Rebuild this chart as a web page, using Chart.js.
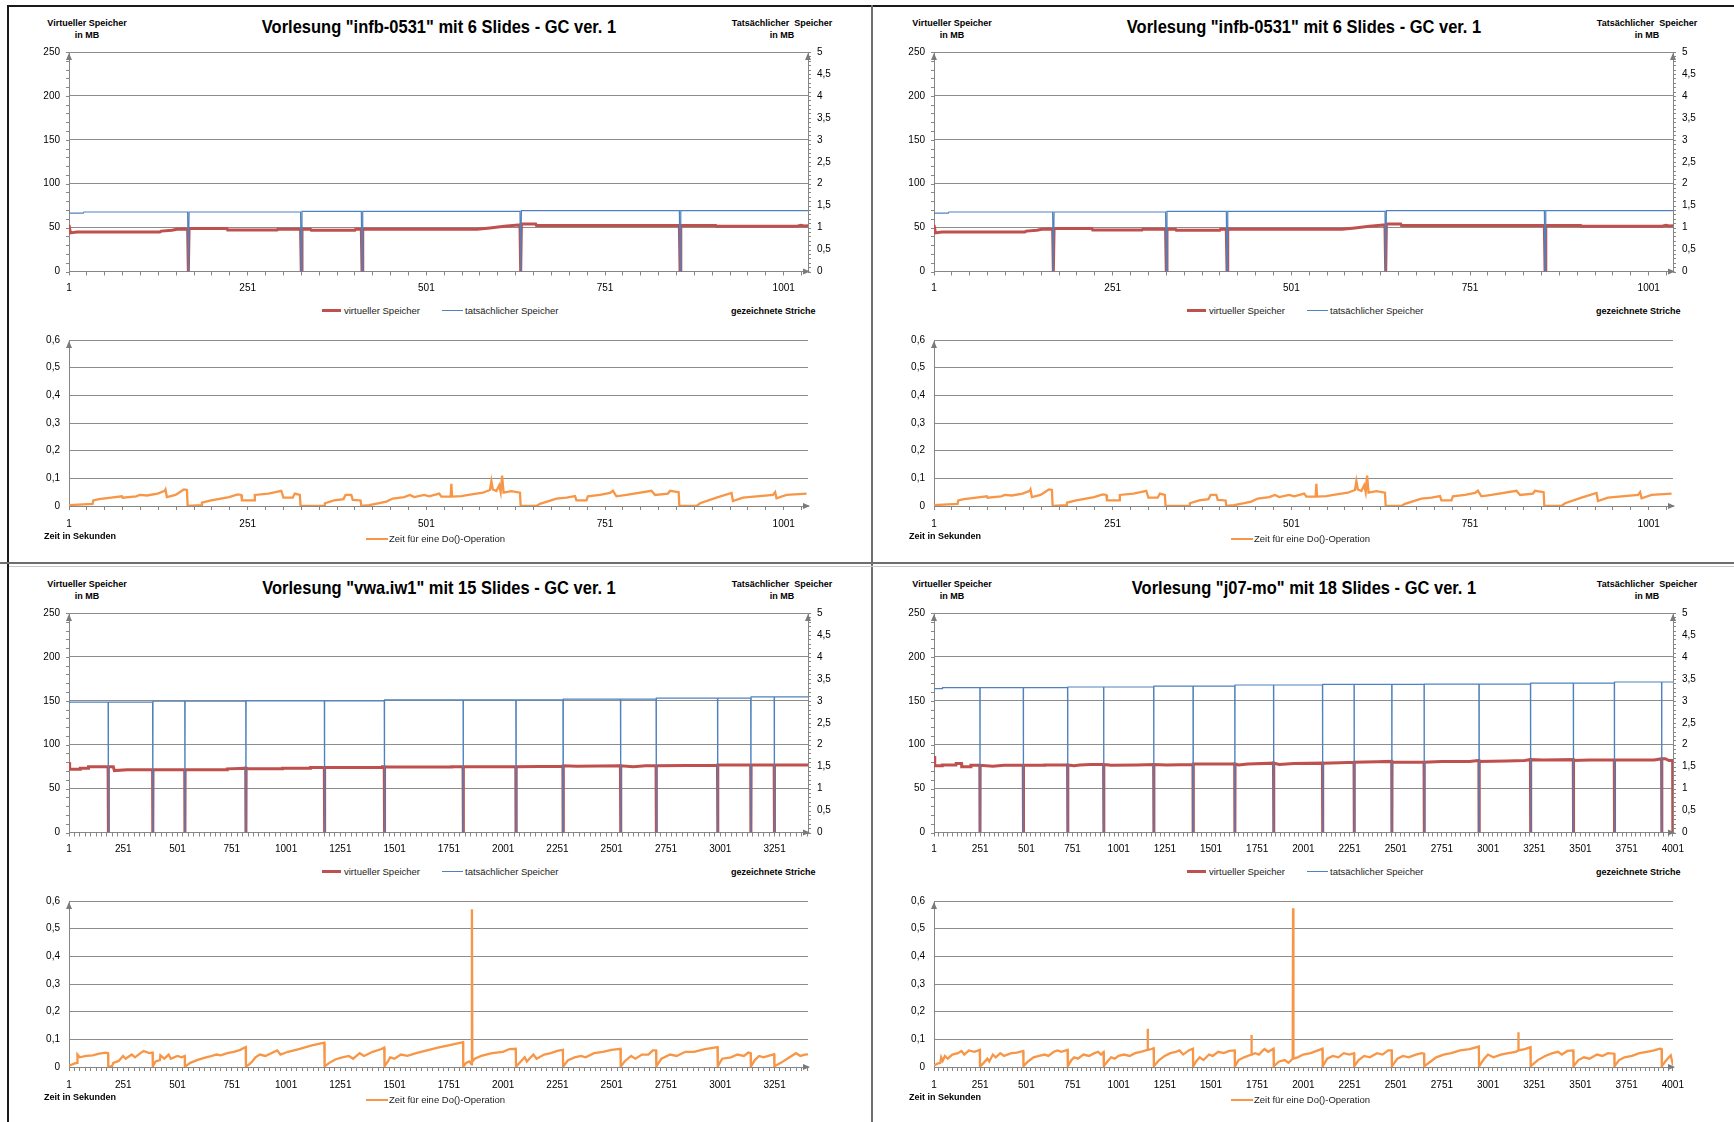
<!DOCTYPE html>
<html lang="de">
<head>
<meta charset="utf-8">
<title>GC Speicherverbrauch</title>
<script src="https://cdn.jsdelivr.net/npm/chart.js@4.4.0/dist/chart.umd.min.js"></script>
<style>
  html, body { margin: 0; padding: 0; background: #fff; }
  #page { position: relative; width: 1734px; height: 1122px; overflow: hidden;
          font-family: 'Liberation Sans', Arial, sans-serif; color: #000; }
  .panel { position: absolute; width: 865px; height: 561px; }
  .panel canvas { position: absolute; left: 0; }
  .txt { position: absolute; white-space: nowrap; line-height: 1; }
  .title { font-size: 17px; font-weight: bold; transform: translate(-50%, -50%) scale(0.97, 1.12); }
  .axtitle { font-size: 9px; font-weight: bold; text-align: center; line-height: 12px; transform: translateX(-50%); }
  .leg { font-size: 9.5px; color: #222; transform: translateY(-50%); }
  .bold { font-weight: bold; color: #000; font-size: 9px; }
  .swatch { position: absolute; }
  .rule { position: absolute; }
</style>
</head>
<body>
<div id="page"></div>
<script>
// colours like Excel 2007
const RED = '#C0504D', BLUE = '#4F81BD', ORANGE = '#F79646';
const AXIS = '#868686', GRID = '#8c8c8c';
const FONT = "'Liberation Sans', Arial, sans-serif";

// ---------- Vorlesung "infb-0531" (both top panels) ----------
const infbTitle = 'Vorlesung "infb-0531" mit 6 Slides - GC ver. 1';
const infbXMax = 1035;
const infbXLabels = [1, 251, 501, 751, 1001];
// virtueller Speicher in MB  [x, MB]
const infbVirtual = [[1,53],[3,44],[12,45],[128,45],[130,46],[145,47],[152,48],[167,48.5],[168,0],[169,49],[222,49],[223,47.2],[292,47.2],[293,48],[325,48],[326,0],[327,48],[339,48],[340,47],[401,47],[402,48],[410,48],[411,0],[412,48],[572,48],[590,49.5],[610,51.5],[630,53],[632,53],[633,0],[634,54],[654,54],[655,52.5],[855,52.5],[856,0],[857,52.5],[906,52.5],[907,51.5],[1020,51.5],[1025,52.5],[1030,51.8],[1035,52]];
// tatsächlicher Speicher (right axis)
const infbReal = [[1,1.33],[21,1.33],[22,1.355],[167,1.355],[168,0],[169,1.355],[325,1.355],[326,0],[327,1.37],[410,1.37],[411,0],[412,1.37],[632,1.37],[633,0],[634,1.385],[855,1.385],[856,0],[857,1.385],[1035,1.385]];
// Zeit für eine Do()-Operation in s
const infbTime = [[1,0.003],[34,0.008],[35,0.02],[43,0.025],[60,0.03],[75,0.035],[76,0.03],[95,0.035],[100,0.04],[110,0.038],[125,0.045],[135,0.055],[136,0.06],[138,0.032],[150,0.04],[159,0.055],[162,0.06],[166,0.058],[167,0],[186,0.003],[187,0.012],[200,0.02],[225,0.032],[237,0.042],[242,0.04],[243,0.02],[260,0.02],[261,0.04],[280,0.045],[290,0.05],[298,0.055],[301,0.03],[314,0.03],[317,0.045],[324,0.04],[325,0],[358,0],[359,0.01],[372,0.02],[385,0.025],[388,0.04],[396,0.04],[398,0.022],[409,0.02],[410,0],[421,0.003],[435,0.01],[445,0.016],[454,0.027],[470,0.032],[478,0.04],[484,0.032],[498,0.04],[505,0.035],[519,0.045],[522,0.034],[535,0.034],[536,0.08],[537,0.034],[550,0.036],[560,0.04],[571,0.045],[580,0.048],[590,0.058],[592,0.09],[594,0.06],[599,0.054],[603,0.075],[605,0.05],[607,0.11],[609,0.048],[620,0.054],[632,0.048],[633,0],[655,0],[660,0.008],[683,0.027],[697,0.03],[709,0.036],[711,0.02],[725,0.02],[727,0.035],[744,0.04],[758,0.047],[762,0.055],[767,0.035],[781,0.04],[816,0.055],[821,0.04],[839,0.045],[842,0.055],[854,0.05],[855,0],[879,0],[884,0.01],[907,0.03],[928,0.047],[930,0.018],[944,0.03],[986,0.04],[989,0.05],[991,0.028],[1005,0.04],[1033,0.045]];

// ---------- Vorlesung "vwa.iw1" ----------
const vwaTitle = 'Vorlesung "vwa.iw1" mit 15 Slides - GC ver. 1';
const vwaXMax = 3405;
const vwaXLabels = [1, 251, 501, 751, 1001, 1251, 1501, 1751, 2001, 2251, 2501, 2751, 3001, 3251];
const vwaVirtual = [[1,80],[4,72],[52,72],[53,73.3],[90,73.3],[91,74.9],[181,75],[182,0],[183,75],[205,75],[210,70.5],[269,71.4],[386,71.4],[387,0],[388,71.4],[534,71.4],[535,0],[536,71.4],[729,71.4],[730,72.5],[790,73],[815,73.3],[816,0],[817,73.3],[830,72.5],[984,72.5],[985,73.3],[1112,73.3],[1113,74],[1177,74],[1178,0],[1179,74],[1444,74],[1445,75],[1453,75],[1454,0],[1455,74.5],[1763,74.5],[1764,75],[1816,75],[1817,0],[1818,75],[2059,75],[2060,0],[2061,75],[2276,75.5],[2277,0],[2278,76],[2340,75.5],[2541,76],[2542,0],[2543,76],[2600,75],[2657,76],[2705,76],[2706,0],[2707,76],[2988,76.5],[2989,0],[2990,77],[3141,77],[3142,0],[3143,77],[3249,77],[3250,0],[3251,77],[3405,77]];
const vwaReal = [[1,2.95],[8,2.97],[181,2.97],[182,0],[183,2.97],[386,2.97],[387,0],[388,2.99],[534,2.99],[535,0],[536,2.99],[815,2.99],[816,0],[817,3.0],[1177,3.0],[1178,0],[1179,3.0],[1453,3.0],[1454,0],[1455,3.02],[1816,3.02],[1817,0],[1818,3.02],[2059,3.02],[2060,0],[2061,3.02],[2276,3.02],[2277,0],[2278,3.04],[2541,3.04],[2542,0],[2543,3.04],[2705,3.04],[2706,0],[2707,3.06],[2988,3.06],[2989,0],[2990,3.06],[3141,3.06],[3142,0],[3143,3.09],[3249,3.09],[3250,0],[3251,3.09],[3405,3.09]];
const vwaTime = [[1,0.005],[25,0.012],[38,0.015],[40,0.045],[50,0.035],[80,0.04],[110,0.042],[140,0.048],[170,0.052],[181,0.05],[182,0],[200,0.004],[205,0.015],[230,0.022],[250,0.04],[262,0.03],[290,0.045],[305,0.035],[330,0.05],[345,0.058],[370,0.05],[386,0.052],[387,0.002],[400,0.02],[420,0.025],[422,0.042],[440,0.03],[460,0.045],[470,0.03],[500,0.04],[520,0.035],[534,0.04],[535,0],[536,0.002],[560,0.015],[590,0.025],[620,0.032],[650,0.038],[680,0.045],[700,0.042],[730,0.05],[760,0.055],[790,0.062],[815,0.072],[816,0],[817,0.002],[835,0.012],[845,0.02],[860,0.035],[880,0.045],[905,0.04],[960,0.06],[975,0.045],[1010,0.055],[1060,0.065],[1120,0.078],[1177,0.088],[1178,0],[1179,0.002],[1200,0.015],[1230,0.028],[1260,0.035],[1290,0.04],[1310,0.03],[1340,0.05],[1360,0.04],[1400,0.055],[1440,0.065],[1453,0.07],[1454,0],[1455,0.003],[1470,0.02],[1480,0.035],[1500,0.03],[1530,0.045],[1560,0.04],[1600,0.05],[1650,0.06],[1700,0.07],[1760,0.08],[1816,0.09],[1817,0],[1830,0.015],[1845,0.02],[1855,0.01],[1857,0.57],[1859,0.02],[1870,0.03],[1900,0.04],[1950,0.05],[2000,0.055],[2030,0.065],[2059,0.066],[2060,0],[2061,0.002],[2080,0.018],[2100,0.035],[2110,0.02],[2140,0.045],[2155,0.03],[2190,0.045],[2220,0.05],[2250,0.058],[2276,0.062],[2277,0],[2278,0.003],[2300,0.025],[2330,0.035],[2360,0.04],[2380,0.035],[2420,0.05],[2460,0.055],[2500,0.062],[2541,0.066],[2542,0],[2543,0.002],[2560,0.02],[2590,0.04],[2610,0.03],[2640,0.045],[2670,0.045],[2690,0.06],[2705,0.06],[2706,0],[2707,0.003],[2730,0.03],[2770,0.045],[2800,0.04],[2840,0.055],[2880,0.055],[2930,0.065],[2988,0.072],[2989,0],[2990,0.003],[3010,0.03],[3050,0.035],[3080,0.045],[3110,0.04],[3130,0.052],[3141,0.05],[3142,0],[3143,0.003],[3160,0.025],[3180,0.04],[3200,0.035],[3230,0.042],[3249,0.046],[3250,0],[3251,0.003],[3280,0.015],[3320,0.035],[3350,0.05],[3370,0.04],[3390,0.045],[3405,0.046]];

// ---------- Vorlesung "j07-mo" ----------
const j07Title = 'Vorlesung "j07-mo" mit 18 Slides - GC ver. 1';
const j07XMax = 4002;
const j07XLabels = [1, 251, 501, 751, 1001, 1251, 1501, 1751, 2001, 2251, 2501, 2751, 3001, 3251, 3501, 3751, 4001];
const j07Virtual = [[1,87],[5,76],[45,76],[46,77],[120,77],[121,78.5],[150,78.5],[151,75],[200,75],[201,76.5],[249,76.5],[250,0],[251,76.5],[320,75.5],[380,76.5],[484,76.5],[485,0],[486,76.5],[600,76.5],[601,77],[724,77],[725,0],[726,77],[760,76],[790,77],[850,77.5],[919,77.5],[920,0],[921,77.5],[960,76.5],[1100,77],[1190,77.5],[1191,0],[1192,77.5],[1260,77],[1403,77.5],[1404,0],[1405,78],[1629,78],[1630,0],[1631,78],[1650,77],[1700,78],[1839,79],[1840,0],[1841,79],[1870,77.5],[1950,78.5],[2104,79],[2105,0],[2106,79],[2200,79.5],[2275,80],[2276,0],[2277,80],[2400,80.5],[2479,81],[2480,0],[2481,80],[2654,80],[2655,0],[2656,80],[2750,81],[2900,81],[2951,82],[2952,0],[2953,81],[3100,81.5],[3200,82],[3230,83],[3231,0],[3232,83],[3300,82.5],[3462,83],[3463,0],[3464,82],[3550,82.5],[3684,82.5],[3685,0],[3686,82.5],[3900,82.5],[3940,84],[3941,0],[3942,84],[3960,84],[3980,82],[4000,82],[4001,0]];
const j07Real = [[1,3.276],[46,3.276],[47,3.298],[249,3.298],[250,0],[251,3.298],[484,3.298],[485,0],[486,3.298],[724,3.298],[725,0],[726,3.314],[919,3.314],[920,0],[921,3.314],[1190,3.314],[1191,0],[1192,3.336],[1403,3.336],[1404,0],[1405,3.336],[1629,3.336],[1630,0],[1631,3.36],[1839,3.36],[1840,0],[1841,3.36],[2104,3.36],[2105,0],[2106,3.374],[2275,3.374],[2276,0],[2277,3.374],[2479,3.374],[2480,0],[2481,3.374],[2654,3.374],[2655,0],[2656,3.382],[2951,3.382],[2952,0],[2953,3.382],[3230,3.382],[3231,0],[3232,3.404],[3462,3.404],[3463,0],[3464,3.404],[3684,3.404],[3685,0],[3686,3.428],[3940,3.428],[3941,0],[3942,3.428],[4002,3.428]];
const j07Time = [[1,0.005],[20,0.012],[35,0.015],[40,0.035],[48,0.022],[60,0.04],[75,0.03],[100,0.045],[130,0.05],[150,0.058],[165,0.045],[190,0.06],[220,0.055],[249,0.062],[250,0],[251,0.002],[270,0.015],[290,0.03],[300,0.02],[320,0.045],[335,0.035],[360,0.05],[380,0.04],[420,0.05],[450,0.052],[484,0.058],[485,0],[486,0.003],[510,0.02],[540,0.035],[570,0.04],[600,0.045],[620,0.04],[650,0.055],[670,0.06],[690,0.055],[724,0.062],[725,0],[726,0.003],[745,0.025],[760,0.035],[780,0.03],[810,0.045],[840,0.04],[870,0.05],[890,0.055],[905,0.045],[919,0.054],[920,0],[921,0.003],[940,0.02],[960,0.035],[980,0.03],[1000,0.04],[1030,0.045],[1060,0.04],[1090,0.05],[1120,0.055],[1157,0.062],[1158,0.138],[1159,0.062],[1180,0.065],[1190,0.068],[1191,0],[1192,0.003],[1220,0.025],[1250,0.04],[1280,0.05],[1310,0.055],[1330,0.06],[1350,0.045],[1380,0.06],[1403,0.066],[1404,0],[1405,0.003],[1420,0.02],[1440,0.035],[1460,0.025],[1490,0.045],[1510,0.04],[1540,0.055],[1570,0.05],[1600,0.058],[1629,0.06],[1630,0],[1631,0.003],[1650,0.025],[1680,0.035],[1719,0.045],[1720,0.116],[1721,0.045],[1740,0.05],[1760,0.045],[1790,0.065],[1810,0.055],[1839,0.066],[1840,0],[1841,0.003],[1870,0.02],[1900,0.025],[1920,0.015],[1943,0.03],[1945,0.574],[1947,0.03],[1970,0.035],[2000,0.045],[2040,0.05],[2080,0.06],[2104,0.066],[2105,0],[2106,0.003],[2130,0.03],[2160,0.04],[2190,0.035],[2220,0.05],[2250,0.045],[2275,0.05],[2276,0],[2277,0.003],[2300,0.025],[2330,0.04],[2360,0.035],[2400,0.05],[2430,0.045],[2460,0.06],[2479,0.06],[2480,0],[2481,0.003],[2510,0.03],[2540,0.04],[2570,0.035],[2610,0.045],[2640,0.05],[2654,0.048],[2655,0],[2656,0.003],[2690,0.02],[2720,0.035],[2760,0.045],[2800,0.05],[2850,0.06],[2900,0.065],[2951,0.074],[2952,0],[2953,0.003],[2980,0.03],[3000,0.045],[3030,0.035],[3070,0.045],[3110,0.05],[3150,0.055],[3164,0.06],[3165,0.126],[3166,0.06],[3200,0.065],[3230,0.072],[3231,0],[3232,0.003],[3270,0.025],[3310,0.04],[3350,0.05],[3380,0.055],[3400,0.045],[3430,0.058],[3462,0.06],[3463,0],[3464,0.003],[3490,0.025],[3520,0.035],[3550,0.03],[3590,0.045],[3620,0.04],[3650,0.05],[3684,0.048],[3685,0],[3686,0.003],[3710,0.025],[3740,0.035],[3780,0.04],[3820,0.05],[3860,0.055],[3900,0.06],[3930,0.066],[3940,0.065],[3941,0],[3942,0.003],[3960,0.02],[3980,0.035],[3990,0.042],[4002,0.005]];

const panels = [
  { left: 0,   top: 0,   title: infbTitle, xMax: infbXMax, xLabels: infbXLabels, virt: infbVirtual, real: infbReal, time: infbTime },
  { left: 865, top: 0,   title: infbTitle, xMax: infbXMax, xLabels: infbXLabels, virt: infbVirtual, real: infbReal, time: infbTime },
  { left: 0,   top: 561, title: vwaTitle,  xMax: vwaXMax,  xLabels: vwaXLabels,  virt: vwaVirtual,  real: vwaReal,  time: vwaTime },
  { left: 865, top: 561, title: j07Title,  xMax: j07XMax,  xLabels: j07XLabels,  virt: j07Virtual,  real: j07Real,  time: j07Time }
];

const comma = v => String(+v.toFixed(2)).replace('.', ',');

// small minor ticks on the y axes and the grey arrow heads at the axis ends
const axisDecor = {
  id: 'axisDecor',
  afterDraw(chart, args, opts) {
    const ctx = chart.ctx, a = chart.chartArea;
    ctx.save();
    ctx.strokeStyle = AXIS;
    ctx.fillStyle = '#7a7a7a';
    ctx.lineWidth = 1;
    (opts.minor || []).forEach(m => {
      const s = chart.scales[m.id];
      const x0 = m.side < 0 ? a.left : a.right;
      for (let v = s.min; v <= s.max + 1e-9; v += m.step) {
        const py = Math.round(s.getPixelForValue(v)) + 0.5;
        ctx.beginPath();
        ctx.moveTo(x0, py);
        ctx.lineTo(x0 + m.side * 3, py);
        ctx.stroke();
      }
    });
    (opts.arrows || []).forEach(id => {
      const ax = id === 'y' ? a.left : a.right;
      ctx.beginPath();
      ctx.moveTo(ax, a.top + 1);
      ctx.lineTo(ax - 3, a.top + 8);
      ctx.lineTo(ax + 3, a.top + 8);
      ctx.closePath();
      ctx.fill();
    });
    ctx.beginPath();
    ctx.moveTo(a.right + 2, a.bottom);
    ctx.lineTo(a.right - 5, a.bottom - 3);
    ctx.lineTo(a.right - 5, a.bottom + 3);
    ctx.closePath();
    ctx.fill();
    ctx.restore();
  }
};

function xScale(p, padding) {
  return {
    type: 'linear', min: 1, max: p.xMax,
    afterBuildTicks: s => {
      const t = [];
      for (let v = 1; v <= p.xMax; v += 25) t.push({ value: v });
      s.ticks = t;
    },
    ticks: {
      autoSkip: false, maxRotation: 0, padding: padding, color: '#000',
      font: { family: FONT, size: 10 },
      callback: v => p.xLabels.includes(v) ? String(v) : ''
    },
    grid: { drawOnChartArea: false, drawTicks: true, tickLength: 4, color: AXIS },
    border: { color: AXIS }
  };
}

function addText(parent, cls, html, x, y) {
  const d = document.createElement('div');
  d.className = 'txt ' + cls;
  d.innerHTML = html;
  d.style.left = x + 'px';
  d.style.top = y + 'px';
  parent.appendChild(d);
  return d;
}

function addSwatch(parent, color, x, y, w, h) {
  const d = document.createElement('div');
  d.className = 'swatch';
  Object.assign(d.style, { left: x + 'px', top: (y - h / 2) + 'px', width: w + 'px', height: h + 'px', background: color });
  parent.appendChild(d);
}

const page = document.getElementById('page');

function rule(x, y, w, h, color) {
  const d = document.createElement('div');
  d.className = 'rule';
  Object.assign(d.style, { left: x + 'px', top: y + 'px', width: w + 'px', height: h + 'px', background: color });
  page.appendChild(d);
}

panels.forEach(p => {
  const el = document.createElement('div');
  el.className = 'panel';
  el.style.left = p.left + 'px';
  el.style.top = p.top + 'px';
  page.appendChild(el);

  addText(el, 'title', p.title, 438.5, 26.5);
  addText(el, 'axtitle', 'Virtueller Speicher<br>in MB', 87, 17);
  addText(el, 'axtitle', 'Tatsächlicher&nbsp; Speicher<br>in MB', 782, 17);

  // memory chart (plot top = canvas top + label padding of the y axis)
  const c1 = document.createElement('canvas');
  c1.width = 865; c1.height = 265;
  c1.style.top = '37px';
  el.appendChild(c1);
  new Chart(c1, {
    type: 'line',
    data: {
      datasets: [
        { label: 'tatsächlicher Speicher', data: p.real, yAxisID: 'y2', borderColor: BLUE, borderWidth: 1.2, order: 0 },
        { label: 'virtueller Speicher', data: p.virt, yAxisID: 'y', borderColor: RED, borderWidth: 3, order: 1 }
      ]
    },
    options: {
      responsive: false, animation: false, events: [],
      layout: { padding: 0 },
      elements: { point: { radius: 0 }, line: { tension: 0 } },
      plugins: {
        legend: { display: false }, tooltip: { enabled: false },
        axisDecor: { minor: [{ id: 'y', step: 10, side: -1 }, { id: 'y2', step: 0.1, side: 1 }], arrows: ['y', 'y2'] }
      },
      scales: {
        x: Object.assign(xScale(p, 7), { afterFit: s => { s.height = 30.5; } }),
        y: {
          position: 'left', min: 0, max: 250,
          ticks: { stepSize: 50, padding: 9, color: '#000', font: { family: FONT, size: 10 } },
          grid: { color: GRID, drawTicks: false },
          border: { color: AXIS },
          afterFit: s => { s.width = 69; }
        },
        y2: {
          position: 'right', min: 0, max: 5,
          ticks: { stepSize: 0.5, padding: 9, color: '#000', font: { family: FONT, size: 10 }, callback: v => comma(v) },
          grid: { drawOnChartArea: false, drawTicks: false },
          border: { color: AXIS },
          afterFit: s => { s.width = 57; }
        }
      }
    },
    plugins: [axisDecor]
  });

  // legend of memory chart
  addSwatch(el, RED, 322, 310.5, 19, 3);
  addText(el, 'leg', 'virtueller Speicher', 344, 310.5);
  addSwatch(el, BLUE, 442, 310.5, 21, 1.5);
  addText(el, 'leg', 'tatsächlicher Speicher', 465, 310.5);
  addText(el, 'leg bold', 'gezeichnete Striche', 731, 310.5);

  // time chart
  const c2 = document.createElement('canvas');
  c2.width = 865; c2.height = 207;
  c2.style.top = '325px';
  el.appendChild(c2);
  new Chart(c2, {
    type: 'line',
    data: {
      datasets: [
        { label: 'Zeit für eine Do()-Operation', data: p.time, borderColor: ORANGE, borderWidth: 2.3 }
      ]
    },
    options: {
      responsive: false, animation: false, events: [],
      layout: { padding: { top: 0, left: 0, right: 57, bottom: 0 } },
      elements: { point: { radius: 0 }, line: { tension: 0 } },
      plugins: {
        legend: { display: false }, tooltip: { enabled: false },
        axisDecor: { minor: [], arrows: ['y'] }
      },
      scales: {
        x: Object.assign(xScale(p, 8), { afterFit: s => { s.height = 26; } }),
        y: {
          position: 'left', min: 0, max: 0.6,
          ticks: { stepSize: 0.1, padding: 9, color: '#000', font: { family: FONT, size: 10 }, callback: v => comma(v) },
          grid: { color: GRID, drawTicks: false },
          border: { color: AXIS },
          afterFit: s => { s.width = 69; }
        }
      }
    },
    plugins: [axisDecor]
  });

  addText(el, 'leg bold', 'Zeit in Sekunden', 44, 536);
  addSwatch(el, ORANGE, 366, 538.5, 22, 2);
  addText(el, 'leg', 'Zeit für eine Do()-Operation', 389, 538.5);
});

// panel frames
rule(7, 5, 1727, 2, '#1a1a1a');
rule(7, 5, 2, 1117, '#1a1a1a');
rule(871, 5, 2, 1117, '#6e6e6e');
rule(0, 562, 1734, 2, '#6e6e6e');
rule(9, 566, 1725, 1, '#c8c8c8');
</script>
</body>
</html>
